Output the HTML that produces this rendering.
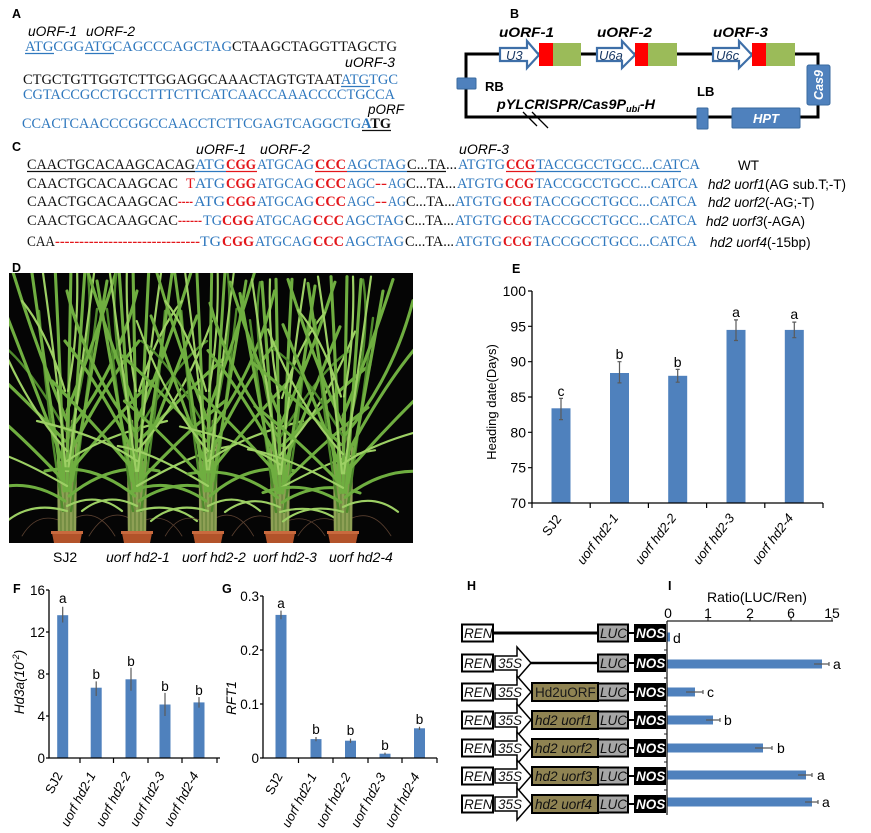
<!DOCTYPE html>
<html><head><meta charset="utf-8">
<style>
html,body{margin:0;padding:0;background:#fff}
svg{display:block}
.sa{font-family:"Liberation Sans",Arial,sans-serif}
.se{font-family:"Liberation Serif","Times New Roman",serif;font-size:14.5px}
.bl{fill:#2f78be}
.rb{fill:#e3161b;font-weight:bold}
.rn{fill:#e3161b}
.k{fill:#111}
.it{font-style:italic}
.bd{font-weight:bold}
</style></head><body>
<svg width="871" height="833" viewBox="0 0 871 833" xmlns="http://www.w3.org/2000/svg">
<defs>
<g id="pl" fill="none" stroke-linecap="round">
 <g stroke="#5a4030" stroke-width="0.8">
  <path d="M-6,-10 Q-30,-20 -45,5 M6,-12 Q30,-25 48,5"/>
 </g>
 <path d="M-9,0 L-8,-70 L8,-70 L9,0 Z" fill="#6f8a40" stroke="none"/>
 <g stroke="#8ea055" stroke-width="2.4">
  <path d="M-8,0 L-9,-90 M-4,0 L-5,-110 M0,0 L0,-120 M4,0 L5,-110 M8,0 L9,-90"/>
 </g>
 <g stroke="#4f8a2c" stroke-width="2.4">
  <path d="M-4,-20 Q-20,-120 -28,-220 M4,-20 Q18,-120 30,-222 M-1,-100 Q-40,-170 -70,-190 M1,-90 Q30,-200 20,-262"/>
 </g>
 <g stroke="#6fae40" stroke-width="3.1">
  <path d="M-3,-40 Q-6,-150 -12,-265 M0,-40 Q2,-150 4,-265 M3,-40 Q10,-150 18,-262 M-5,-50 Q-20,-150 -35,-258 M5,-50 Q25,-160 40,-250 M-4,-70 Q-35,-150 -60,-215 M4,-80 Q40,-150 72,-190 M-3,-50 Q-50,-100 -88,-130 M3,-60 Q45,-110 85,-150 M-2,-30 Q-40,-55 -80,-40 M2,-35 Q45,-70 92,-60 M0,-110 Q-30,-180 -55,-262 M0,-120 Q28,-190 50,-262 M-2,-90 Q-60,-150 -90,-175 M2,-100 Q50,-160 70,-240"/>
 </g>
 <g stroke="#9dd064" stroke-width="2.2">
  <path d="M-1,-60 Q-10,-160 -25,-265 M1,-60 Q14,-160 28,-265 M0,-80 Q-45,-130 -75,-210 M0,-70 Q35,-95 100,-110 M0,-20 Q-35,-30 -60,-10 M0,-25 Q30,-40 55,-20 M-2,-140 Q-20,-200 -45,-230 M0,-45 Q-60,-80 -95,-85 M1,-140 Q12,-200 10,-265"/>
 </g>
</g>
<clipPath id="ph"><rect x="9" y="273" width="404" height="270"/></clipPath>
</defs>

<!-- ============ A ============ -->
<text class="sa bd" x="12" y="18" font-size="12.5">A</text>
<text class="sa it" x="28" y="36" font-size="13.5" textLength="49" lengthAdjust="spacingAndGlyphs">uORF-1</text>
<text class="sa it" x="86" y="36" font-size="13.5" textLength="49" lengthAdjust="spacingAndGlyphs">uORF-2</text>
<text class="se" x="25" y="51" textLength="372" lengthAdjust="spacingAndGlyphs"><tspan class="bl">ATGCGGATGCAGCCCAGCTAG</tspan><tspan class="k">CTAAGCTAGGTTAGCTG</tspan></text>
<line x1="25" y1="53.5" x2="54" y2="53.5" stroke="#2f78be" stroke-width="1.2"/>
<line x1="85" y1="53.5" x2="114" y2="53.5" stroke="#2f78be" stroke-width="1.2"/>
<text class="sa it" x="345" y="67" font-size="13.5" textLength="50" lengthAdjust="spacingAndGlyphs">uORF-3</text>
<text class="se" x="23" y="84" textLength="375" lengthAdjust="spacingAndGlyphs"><tspan class="k">CTGCTGTTGGTCTTGGAGGCAAACTAGTGTAAT</tspan><tspan class="bl">ATGTGC</tspan></text>
<line x1="341" y1="86.5" x2="370" y2="86.5" stroke="#2f78be" stroke-width="1.2"/>
<text class="se bl" x="23" y="99" textLength="372" lengthAdjust="spacingAndGlyphs">CGTACCGCCTGCCTTTCTTCATCAACCAAACCCCTGCCA</text>
<text class="sa it" x="368" y="114" font-size="13.5" textLength="36" lengthAdjust="spacingAndGlyphs">pORF</text>
<text class="se" x="22" y="128" textLength="369" lengthAdjust="spacingAndGlyphs"><tspan class="bl">CCACTCAACCCGGCCAACCTCTTCGAGTCAGGCTG</tspan><tspan class="bl bd">A</tspan><tspan class="k bd">TG</tspan></text>
<line x1="362" y1="130.5" x2="391" y2="130.5" stroke="#111" stroke-width="1.3"/>

<!-- ============ B ============ -->
<text class="sa bd" x="510" y="18" font-size="12.5">B</text>
<path d="M466,54 H818 V117 H466 Z" fill="none" stroke="#000" stroke-width="3"/>
<rect x="457" y="78" width="19" height="11" rx="1" fill="#4f81bd" stroke="#3a6a9f" stroke-width="1"/>
<text class="sa bd" x="485" y="91" font-size="13">RB</text>
<text class="sa bd" x="697" y="96" font-size="13">LB</text>
<rect x="697" y="108" width="11" height="21" rx="1" fill="#4f81bd" stroke="#3a6a9f" stroke-width="1"/>
<rect x="732" y="108" width="68" height="20" rx="1" fill="#4f81bd" stroke="#3a6a9f" stroke-width="1"/>
<text class="sa bd it" x="766" y="123" font-size="13" fill="#fff" text-anchor="middle">HPT</text>
<rect x="807" y="65" width="23" height="40" rx="2" fill="#4f81bd" stroke="#3a6a9f" stroke-width="1"/>
<text class="sa bd it" transform="translate(823,85) rotate(-90)" font-size="12.5" fill="#fff" text-anchor="middle">Cas9</text>
<text class="sa bd it" x="497" y="109" font-size="14" textLength="158" lengthAdjust="spacingAndGlyphs">pYLCRISPR/Cas9P<tspan font-size="9" dy="3">ubi</tspan><tspan dy="-3">-H</tspan></text>
<path d="M523,112 L537,126 M532,112 L548,128" stroke="#000" stroke-width="1.3"/>
<g stroke="#3e6fa8" stroke-width="2.2" fill="#fff">
 <polygon points="500,48 527,48 527,41 539,55 527,68 527,61 500,61"/>
 <polygon points="597,48 622,48 622,41 635,55 622,68 622,61 597,61"/>
 <polygon points="713,48 739,48 739,41 752,55 739,68 739,61 713,61"/>
</g>
<g class="sa it" font-size="13" fill="#1a3a66">
 <text x="506" y="60">U3</text>
 <text x="599" y="60">U6a</text>
 <text x="716" y="60">U6c</text>
</g>
<rect x="539" y="43" width="14" height="23" fill="#ff0000"/>
<rect x="553" y="43" width="28" height="23" fill="#9bbb59"/>
<rect x="635" y="43" width="13" height="23" fill="#ff0000"/>
<rect x="648" y="43" width="29" height="23" fill="#9bbb59"/>
<rect x="752" y="43" width="14" height="23" fill="#ff0000"/>
<rect x="766" y="43" width="29" height="23" fill="#9bbb59"/>
<g class="sa bd it" font-size="14">
 <text x="499" y="37" textLength="55" lengthAdjust="spacingAndGlyphs">uORF-1</text>
 <text x="597" y="37" textLength="55" lengthAdjust="spacingAndGlyphs">uORF-2</text>
 <text x="713" y="37" textLength="55" lengthAdjust="spacingAndGlyphs">uORF-3</text>
</g>

<!-- ============ C ============ -->
<text class="sa bd" x="12" y="151" font-size="12.5">C</text>
<g class="sa it" font-size="13.5">
 <text x="196" y="154" textLength="50" lengthAdjust="spacingAndGlyphs">uORF-1</text>
 <text x="260" y="154" textLength="50" lengthAdjust="spacingAndGlyphs">uORF-2</text>
 <text x="459" y="154" textLength="50" lengthAdjust="spacingAndGlyphs">uORF-3</text>
</g>
<g class="se">
 <text class="k" x="27" y="169" textLength="168" lengthAdjust="spacingAndGlyphs">CAACTGCACAAGCACAG</text>
 <text class="bl" x="195" y="169" textLength="30" lengthAdjust="spacingAndGlyphs">ATG</text>
 <text class="rb" x="226" y="169" textLength="30" lengthAdjust="spacingAndGlyphs">CGG</text>
 <text class="bl" x="257" y="169" textLength="57" lengthAdjust="spacingAndGlyphs">ATGCAG</text>
 <text class="rb" x="315" y="169" textLength="31" lengthAdjust="spacingAndGlyphs">CCC</text>
 <text class="bl" x="347" y="169" textLength="59" lengthAdjust="spacingAndGlyphs">AGCTAG</text>
 <text class="k" x="407" y="169" textLength="50" lengthAdjust="spacingAndGlyphs">C...TA...</text>
 <text class="bl" x="458" y="169" textLength="47" lengthAdjust="spacingAndGlyphs">ATGTG</text>
 <text class="rb" x="506" y="169" textLength="29" lengthAdjust="spacingAndGlyphs">CCG</text>
 <text class="bl" x="536" y="169" textLength="164" lengthAdjust="spacingAndGlyphs">TACCGCCTGCC...CATCA</text>
</g>
<g stroke-width="1.3">
 <line x1="27" y1="171.5" x2="195" y2="171.5" stroke="#111"/>
 <line x1="195" y1="171.5" x2="226" y2="171.5" stroke="#2f78be"/>
 <line x1="226" y1="171.5" x2="257" y2="171.5" stroke="#e3161b"/>
 <line x1="315" y1="171.5" x2="347" y2="171.5" stroke="#e3161b"/>
 <line x1="347" y1="171.5" x2="407" y2="171.5" stroke="#2f78be"/>
 <line x1="407" y1="171.5" x2="446" y2="171.5" stroke="#111"/>
 <line x1="506" y1="171.5" x2="536" y2="171.5" stroke="#e3161b"/>
 <line x1="536" y1="171.5" x2="681" y2="171.5" stroke="#2f78be"/>
</g>
<text class="sa" x="738" y="170" font-size="13.5">WT</text>
<g class="se">
 <text class="k" x="27" y="188" textLength="151" lengthAdjust="spacingAndGlyphs">CAACTGCACAAGCAC</text>
 <text class="rn" x="186" y="188">T</text>
 <text class="bl" x="195" y="188" textLength="30" lengthAdjust="spacingAndGlyphs">ATG</text>
 <text class="rb" x="226" y="188" textLength="30" lengthAdjust="spacingAndGlyphs">CGG</text>
 <text class="bl" x="257" y="188" textLength="57" lengthAdjust="spacingAndGlyphs">ATGCAG</text>
 <text class="rb" x="315" y="188" textLength="31" lengthAdjust="spacingAndGlyphs">CCC</text>
 <text class="bl" x="347" y="188" textLength="28" lengthAdjust="spacingAndGlyphs">AGC</text>
 <text class="rb" x="375" y="188" textLength="12" lengthAdjust="spacingAndGlyphs">--</text>
 <text class="bl" x="388" y="188" textLength="18" lengthAdjust="spacingAndGlyphs">AG</text>
 <text class="k" x="406" y="188" textLength="50" lengthAdjust="spacingAndGlyphs">C...TA...</text>
 <text class="bl" x="457" y="188" textLength="47" lengthAdjust="spacingAndGlyphs">ATGTG</text>
 <text class="rb" x="505" y="188" textLength="29" lengthAdjust="spacingAndGlyphs">CCG</text>
 <text class="bl" x="535" y="188" textLength="163" lengthAdjust="spacingAndGlyphs">TACCGCCTGCC...CATCA</text>
</g>
<text class="sa" x="708" y="189" font-size="13.5"><tspan class="it">hd2 uorf1</tspan>(AG sub.T;-T)</text>
<g class="se">
 <text class="k" x="27" y="206" textLength="151" lengthAdjust="spacingAndGlyphs">CAACTGCACAAGCAC</text>
 <text class="rb" x="178" y="206" textLength="15" lengthAdjust="spacingAndGlyphs">----</text>
 <text class="bl" x="194" y="206" textLength="31" lengthAdjust="spacingAndGlyphs">ATG</text>
 <text class="rb" x="226" y="206" textLength="30" lengthAdjust="spacingAndGlyphs">CGG</text>
 <text class="bl" x="257" y="206" textLength="57" lengthAdjust="spacingAndGlyphs">ATGCAG</text>
 <text class="rb" x="315" y="206" textLength="31" lengthAdjust="spacingAndGlyphs">CCC</text>
 <text class="bl" x="347" y="206" textLength="28" lengthAdjust="spacingAndGlyphs">AGC</text>
 <text class="rb" x="375" y="206" textLength="12" lengthAdjust="spacingAndGlyphs">--</text>
 <text class="bl" x="388" y="206" textLength="18" lengthAdjust="spacingAndGlyphs">AG</text>
 <text class="k" x="406" y="206" textLength="49" lengthAdjust="spacingAndGlyphs">C...TA...</text>
 <text class="bl" x="455" y="206" textLength="47" lengthAdjust="spacingAndGlyphs">ATGTG</text>
 <text class="rb" x="503" y="206" textLength="29" lengthAdjust="spacingAndGlyphs">CCG</text>
 <text class="bl" x="533" y="206" textLength="164" lengthAdjust="spacingAndGlyphs">TACCGCCTGCC...CATCA</text>
</g>
<text class="sa" x="708" y="207" font-size="13.5"><tspan class="it">hd2 uorf2</tspan>(-AG;-T)</text>
<g class="se">
 <text class="k" x="27" y="225" textLength="151" lengthAdjust="spacingAndGlyphs">CAACTGCACAAGCAC</text>
 <text class="rb" x="178" y="225" textLength="24" lengthAdjust="spacingAndGlyphs">------</text>
 <text class="bl" x="203" y="225" textLength="19" lengthAdjust="spacingAndGlyphs">TG</text>
 <text class="rb" x="222" y="225" textLength="32" lengthAdjust="spacingAndGlyphs">CGG</text>
 <text class="bl" x="255" y="225" textLength="57" lengthAdjust="spacingAndGlyphs">ATGCAG</text>
 <text class="rb" x="313" y="225" textLength="31" lengthAdjust="spacingAndGlyphs">CCC</text>
 <text class="bl" x="345" y="225" textLength="59" lengthAdjust="spacingAndGlyphs">AGCTAG</text>
 <text class="k" x="405" y="225" textLength="49" lengthAdjust="spacingAndGlyphs">C...TA...</text>
 <text class="bl" x="455" y="225" textLength="47" lengthAdjust="spacingAndGlyphs">ATGTG</text>
 <text class="rb" x="503" y="225" textLength="29" lengthAdjust="spacingAndGlyphs">CCG</text>
 <text class="bl" x="533" y="225" textLength="164" lengthAdjust="spacingAndGlyphs">TACCGCCTGCC...CATCA</text>
</g>
<text class="sa" x="706" y="226" font-size="13.5"><tspan class="it">hd2 uorf3</tspan>(-AGA)</text>
<g class="se">
 <text class="k" x="27" y="246" textLength="28" lengthAdjust="spacingAndGlyphs">CAA</text>
 <text class="rb" x="55" y="246" textLength="145" lengthAdjust="spacingAndGlyphs">------------------------------</text>
 <text class="bl" x="200" y="246" textLength="21" lengthAdjust="spacingAndGlyphs">TG</text>
 <text class="rb" x="222" y="246" textLength="32" lengthAdjust="spacingAndGlyphs">CGG</text>
 <text class="bl" x="255" y="246" textLength="57" lengthAdjust="spacingAndGlyphs">ATGCAG</text>
 <text class="rb" x="313" y="246" textLength="31" lengthAdjust="spacingAndGlyphs">CCC</text>
 <text class="bl" x="345" y="246" textLength="59" lengthAdjust="spacingAndGlyphs">AGCTAG</text>
 <text class="k" x="405" y="246" textLength="49" lengthAdjust="spacingAndGlyphs">C...TA...</text>
 <text class="bl" x="455" y="246" textLength="47" lengthAdjust="spacingAndGlyphs">ATGTG</text>
 <text class="rb" x="503" y="246" textLength="29" lengthAdjust="spacingAndGlyphs">CCG</text>
 <text class="bl" x="533" y="246" textLength="164" lengthAdjust="spacingAndGlyphs">TACCGCCTGCC...CATCA</text>
</g>
<text class="sa" x="710" y="247" font-size="13.5"><tspan class="it">hd2 uorf4</tspan>(-15bp)</text>

<!-- ============ D ============ -->
<text class="sa bd" x="12" y="272" font-size="12.5">D</text>
<rect x="9" y="273" width="404" height="270" fill="#050505"/>
<g clip-path="url(#ph)">
 <use href="#pl" transform="translate(67,531)"/>
 <use href="#pl" transform="translate(137,531) scale(-1,1)"/>
 <use href="#pl" transform="translate(208,531) scale(0.95,1)"/>
 <use href="#pl" transform="translate(280,531) scale(-1,0.95)"/>
 <use href="#pl" transform="translate(343,531) scale(1,0.96)"/>
 <g fill="#b2532a">
  <polygon points="52,533 82,533 80,543 54,543"/>
  <polygon points="122,533 152,533 150,543 124,543"/>
  <polygon points="193,533 223,533 221,543 195,543"/>
  <polygon points="265,533 295,533 293,543 267,543"/>
  <polygon points="328,533 358,533 356,543 330,543"/>
 </g>
 <g fill="#c96a3e">
  <rect x="51" y="531" width="32" height="3"/>
  <rect x="121" y="531" width="32" height="3"/>
  <rect x="192" y="531" width="32" height="3"/>
  <rect x="264" y="531" width="32" height="3"/>
  <rect x="327" y="531" width="32" height="3"/>
 </g>
</g>
<g class="sa" font-size="14">
 <text x="53" y="562">SJ2</text>
 <text class="it" x="106" y="562">uorf hd2-1</text>
 <text class="it" x="182" y="562">uorf hd2-2</text>
 <text class="it" x="253" y="562">uorf hd2-3</text>
 <text class="it" x="329" y="562">uorf hd2-4</text>
</g>

<!-- ============ E ============ -->
<text class="sa bd" x="512" y="273" font-size="12.5">E</text>
<g fill="#4f81bd">
 <rect x="551.5" y="408.3" width="19" height="94.7"/>
 <rect x="610" y="373" width="19" height="130"/>
 <rect x="668.2" y="375.8" width="19" height="127.2"/>
 <rect x="726.5" y="329.9" width="19" height="173.1"/>
 <rect x="784.8" y="329.9" width="19" height="173.1"/>
</g>
<g stroke="#5a5a5a" stroke-width="1.2" fill="none">
 <path d="M561,398.4V419.6M559,398.4H563M559,419.6H563"/>
 <path d="M619.5,361.7V382.9M617.5,361.7H621.5M617.5,382.9H621.5"/>
 <path d="M677.7,369.4V382.2M675.7,369.4H679.7M675.7,382.2H679.7"/>
 <path d="M736,319.9V340.5M734,319.9H738M734,340.5H738"/>
 <path d="M794.3,322.1V337.7M792.3,322.1H796.3M792.3,337.7H796.3"/>
</g>
<path d="M532,291V503H823" fill="none" stroke="#000" stroke-width="1.3"/>
<path d="M528,291H532M528,326.3H532M528,361.7H532M528,397H532M528,432.3H532M528,467.7H532M528,503H532M532,503V508M590.2,503V508M648.4,503V508M706.6,503V508M764.8,503V508M823,503V508" stroke="#000" stroke-width="1.2"/>
<g class="sa" font-size="14" text-anchor="end">
 <text x="526" y="296">100</text>
 <text x="526" y="331.3">95</text>
 <text x="526" y="366.7">90</text>
 <text x="526" y="402">85</text>
 <text x="526" y="437.3">80</text>
 <text x="526" y="472.7">75</text>
 <text x="526" y="508">70</text>
</g>
<g class="sa" font-size="14" text-anchor="middle">
 <text x="561" y="396">c</text>
 <text x="619.5" y="359">b</text>
 <text x="677.7" y="367">b</text>
 <text x="736" y="317">a</text>
 <text x="794.3" y="319">a</text>
</g>
<text class="sa" font-size="13" text-anchor="middle" transform="translate(496,402) rotate(-90)">Heading date(Days)</text>
<g class="sa" font-size="13" text-anchor="end">
 <text transform="translate(562,519) rotate(-53)">SJ2</text>
 <text class="it" transform="translate(619,518) rotate(-53)">uorf hd2-1</text>
 <text class="it" transform="translate(677,518) rotate(-53)">uorf hd2-2</text>
 <text class="it" transform="translate(735,518) rotate(-53)">uorf hd2-3</text>
 <text class="it" transform="translate(794,518) rotate(-53)">uorf hd2-4</text>
</g>

<!-- ============ F ============ -->
<text class="sa bd" x="13" y="593" font-size="12.5">F</text>
<g fill="#4f81bd">
 <rect x="57.2" y="615.2" width="11" height="142.8"/>
 <rect x="90.7" y="687.7" width="11" height="70.3"/>
 <rect x="125.5" y="679.3" width="11" height="78.7"/>
 <rect x="159.5" y="704.5" width="11" height="53.5"/>
 <rect x="193.5" y="702.4" width="11" height="55.6"/>
</g>
<g stroke="#5a5a5a" stroke-width="1.2" fill="none">
 <path d="M62.7,606.8V622.5M96.2,681.4V696M131,667.7V690.8M165,692.9V716M199,697.1V707.6"/>
</g>
<path d="M49,590V758H220" fill="none" stroke="#000" stroke-width="1.3"/>
<path d="M46,590H49M46,632H49M46,674H49M46,716H49M46,758H49M80,758V763M113.5,758V763M148,758V763M182,758V763M217,758V763" stroke="#000" stroke-width="1.2"/>
<g class="sa" font-size="13.5" text-anchor="end">
 <text x="45" y="595">16</text>
 <text x="45" y="637">12</text>
 <text x="45" y="679">8</text>
 <text x="45" y="721">4</text>
 <text x="45" y="763">0</text>
</g>
<g class="sa" font-size="13.5" text-anchor="middle">
 <text x="62.7" y="603">a</text>
 <text x="96.2" y="679">b</text>
 <text x="131" y="666">b</text>
 <text x="165" y="691">b</text>
 <text x="199" y="695">b</text>
</g>
<text class="sa it" font-size="13.5" text-anchor="middle" transform="translate(24,682) rotate(-90)">Hd3a(10<tspan font-size="9" dy="-5">-2</tspan><tspan dy="5">)</tspan></text>
<g class="sa" font-size="13" text-anchor="end">
 <text transform="translate(63,775) rotate(-62)">SJ2</text>
 <text class="it" transform="translate(96,775) rotate(-62)">uorf hd2-1</text>
 <text class="it" transform="translate(131,775) rotate(-62)">uorf hd2-2</text>
 <text class="it" transform="translate(165,775) rotate(-62)">uorf hd2-3</text>
 <text class="it" transform="translate(199,775) rotate(-62)">uorf hd2-4</text>
</g>

<!-- ============ G ============ -->
<text class="sa bd" x="222" y="593" font-size="12.5">G</text>
<g fill="#4f81bd">
 <rect x="275.5" y="614.9" width="11" height="143.1"/>
 <rect x="310.5" y="739.1" width="11" height="18.9"/>
 <rect x="345" y="740.7" width="11" height="17.3"/>
 <rect x="379.5" y="753.7" width="11" height="4.3"/>
 <rect x="414" y="728.3" width="11" height="29.7"/>
</g>
<g stroke="#5a5a5a" stroke-width="1.2" fill="none">
 <path d="M281,610.6V619.2M316,737V741.3M350.5,738.6V742.9M385,752.6V754.8M419.5,726.7V729.9"/>
</g>
<path d="M263,596V758H437" fill="none" stroke="#000" stroke-width="1.3"/>
<path d="M260,596H263M260,650H263M260,704H263M260,758H263M298.5,758V763M333,758V763M368,758V763M402,758V763M437,758V763" stroke="#000" stroke-width="1.2"/>
<g class="sa" font-size="13.5" text-anchor="end">
 <text x="259" y="601">0.3</text>
 <text x="259" y="655">0.2</text>
 <text x="259" y="709">0.1</text>
 <text x="259" y="763">0</text>
</g>
<g class="sa" font-size="13.5" text-anchor="middle">
 <text x="281" y="608">a</text>
 <text x="316" y="734">b</text>
 <text x="350.5" y="735">b</text>
 <text x="385" y="750">b</text>
 <text x="419.5" y="724">b</text>
</g>
<text class="sa it" font-size="13.5" text-anchor="middle" transform="translate(236,698) rotate(-90)">RFT1</text>
<g class="sa" font-size="13" text-anchor="end">
 <text transform="translate(283,776) rotate(-62)">SJ2</text>
 <text class="it" transform="translate(317,776) rotate(-62)">uorf hd2-1</text>
 <text class="it" transform="translate(351,776) rotate(-62)">uorf hd2-2</text>
 <text class="it" transform="translate(386,776) rotate(-62)">uorf hd2-3</text>
 <text class="it" transform="translate(420,776) rotate(-62)">uorf hd2-4</text>
</g>

<!-- ============ H ============ -->
<text class="sa bd" x="467" y="590" font-size="12.5">H</text>
<g stroke="#000">
 <line x1="493" y1="633" x2="598" y2="633" stroke-width="3"/>
 <line x1="531" y1="663" x2="598" y2="663" stroke-width="2.5"/>
 <line x1="628" y1="633" x2="634" y2="633" stroke-width="2"/>
 <line x1="628" y1="663" x2="634" y2="663" stroke-width="2"/>
 <line x1="628" y1="692" x2="634" y2="692" stroke-width="2"/>
 <line x1="628" y1="720" x2="634" y2="720" stroke-width="2"/>
 <line x1="628" y1="748" x2="634" y2="748" stroke-width="2"/>
 <line x1="628" y1="776" x2="634" y2="776" stroke-width="2"/>
 <line x1="628" y1="804" x2="634" y2="804" stroke-width="2"/>
</g>
<g fill="#fff" stroke="#000" stroke-width="2">
 <rect x="462" y="624.5" width="31" height="17"/>
 <rect x="462" y="654.5" width="31" height="17"/>
 <rect x="462" y="683.5" width="31" height="17"/>
 <rect x="462" y="711.5" width="31" height="17"/>
 <rect x="462" y="739.5" width="31" height="17"/>
 <rect x="462" y="767.5" width="31" height="17"/>
 <rect x="462" y="795.5" width="31" height="17"/>
</g>
<g fill="#fff" stroke="#000" stroke-width="1.5">
 <polygon points="495,656 517,656 517,647 531,663 517,679 517,670 495,670"/>
 <polygon points="495,685 517,685 517,676 531,692 517,708 517,699 495,699"/>
 <polygon points="495,713 517,713 517,704 531,720 517,736 517,727 495,727"/>
 <polygon points="495,741 517,741 517,732 531,748 517,764 517,755 495,755"/>
 <polygon points="495,769 517,769 517,760 531,776 517,792 517,783 495,783"/>
 <polygon points="495,797 517,797 517,788 531,804 517,820 517,811 495,811"/>
</g>
<g fill="#8f8352" stroke="#000" stroke-width="2">
 <rect x="532" y="683" width="66" height="18"/>
 <rect x="532" y="711" width="66" height="18"/>
 <rect x="532" y="739" width="66" height="18"/>
 <rect x="532" y="767" width="66" height="18"/>
 <rect x="532" y="795" width="66" height="18"/>
</g>
<g fill="#a6a6a6" stroke="#000" stroke-width="2">
 <rect x="598" y="624.5" width="30" height="17"/>
 <rect x="598" y="654.5" width="30" height="17"/>
 <rect x="598" y="683.5" width="30" height="17"/>
 <rect x="598" y="711.5" width="30" height="17"/>
 <rect x="598" y="739.5" width="30" height="17"/>
 <rect x="598" y="767.5" width="30" height="17"/>
 <rect x="598" y="795.5" width="30" height="17"/>
</g>
<g fill="#000">
 <rect x="634" y="624" width="32" height="18"/>
 <rect x="634" y="654" width="32" height="18"/>
 <rect x="634" y="683" width="32" height="18"/>
 <rect x="634" y="711" width="32" height="18"/>
 <rect x="634" y="739" width="32" height="18"/>
 <rect x="634" y="767" width="32" height="18"/>
 <rect x="634" y="795" width="32" height="18"/>
</g>
<g class="sa it" font-size="13.5" fill="#111">
 <text x="464" y="638">REN</text>
 <text x="464" y="668">REN</text>
 <text x="464" y="697">REN</text>
 <text x="464" y="725">REN</text>
 <text x="464" y="753">REN</text>
 <text x="464" y="781">REN</text>
 <text x="464" y="809">REN</text>
 <text x="498" y="668">35S</text>
 <text x="498" y="697">35S</text>
 <text x="498" y="725">35S</text>
 <text x="498" y="753">35S</text>
 <text x="498" y="781">35S</text>
 <text x="498" y="809">35S</text>
 <text x="600" y="638">LUC</text>
 <text x="600" y="668">LUC</text>
 <text x="600" y="697">LUC</text>
 <text x="600" y="725">LUC</text>
 <text x="600" y="753">LUC</text>
 <text x="600" y="781">LUC</text>
 <text x="600" y="809">LUC</text>
 <text x="535" y="725">hd2 uorf1</text>
 <text x="535" y="753">hd2 uorf2</text>
 <text x="535" y="781">hd2 uorf3</text>
 <text x="535" y="809">hd2 uorf4</text>
</g>
<text class="sa" x="535" y="697" font-size="13.5" fill="#1a1a1a">Hd2uORF</text>
<g class="sa bd it" font-size="13.5" fill="#fff">
 <text x="636" y="638">NOS</text>
 <text x="636" y="668">NOS</text>
 <text x="636" y="697">NOS</text>
 <text x="636" y="725">NOS</text>
 <text x="636" y="753">NOS</text>
 <text x="636" y="781">NOS</text>
 <text x="636" y="809">NOS</text>
</g>

<!-- ============ I ============ -->
<text class="sa bd" x="668" y="590" font-size="12.5">I</text>
<text class="sa" x="707" y="602" font-size="14" textLength="100" lengthAdjust="spacingAndGlyphs">Ratio(LUC/Ren)</text>
<g class="sa" font-size="14" text-anchor="middle">
 <text x="668" y="618">0</text>
 <text x="708" y="618">1</text>
 <text x="750" y="618">2</text>
 <text x="791" y="618">6</text>
 <text x="832" y="618">15</text>
</g>
<g fill="#4f81bd">
 <rect x="667" y="632.5" width="3" height="9"/>
 <rect x="667" y="659.5" width="155" height="9"/>
 <rect x="667" y="687.5" width="28" height="9"/>
 <rect x="667" y="715.5" width="46" height="9"/>
 <rect x="667" y="743.5" width="96" height="9"/>
 <rect x="667" y="770.5" width="139" height="9"/>
 <rect x="667" y="797.5" width="145" height="9"/>
</g>
<g stroke="#5a5a5a" stroke-width="1.2" fill="none">
 <path d="M814,664H829M829,662V666"/>
 <path d="M686,692H703M703,690V694"/>
 <path d="M706,720H720M720,718V722"/>
 <path d="M755,748H772M772,746V750"/>
 <path d="M798,775H812M812,773V777"/>
 <path d="M805,802H818M818,800V804"/>
</g>
<path d="M667,621H833M667,621V815" fill="none" stroke="#222" stroke-width="1.3"/>
<path d="M708,621V618M750,621V618M791,621V618M832,621V618M664,650H667M664,678H667M664,706H667M664,734H667M664,762H667M664,790H667" stroke="#222" stroke-width="1"/>
<g class="sa" font-size="14">
 <text x="673" y="643">d</text>
 <text x="833" y="669">a</text>
 <text x="707" y="697">c</text>
 <text x="724" y="725">b</text>
 <text x="777" y="753">b</text>
 <text x="817" y="780">a</text>
 <text x="822" y="807">a</text>
</g>
</svg>
</body></html>
